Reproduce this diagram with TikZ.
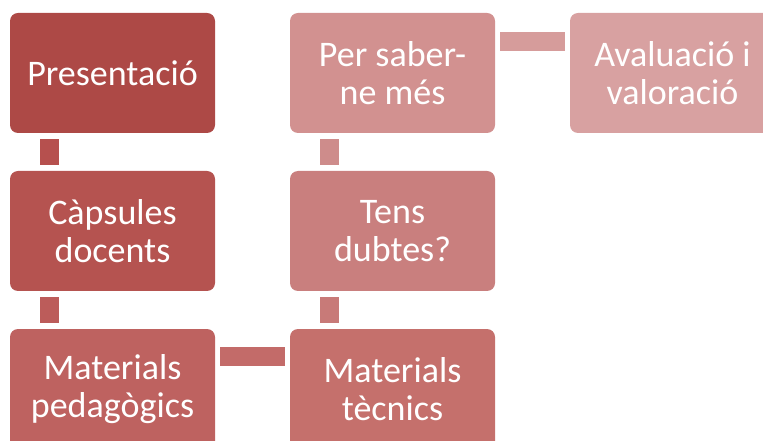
\documentclass[tikz,border=0pt]{standalone}
\usepackage{fontspec}
\setmainfont{Carlito}
\definecolor{c1}{HTML}{AD4946}
\definecolor{c2}{HTML}{B55350}
\definecolor{c3}{HTML}{BE6260}
\definecolor{c4}{HTML}{C5706C}
\definecolor{c5}{HTML}{C97F7E}
\definecolor{c6}{HTML}{D29190}
\definecolor{c7}{HTML}{D8A1A1}
\definecolor{k1}{HTML}{B6504E}
\definecolor{k2}{HTML}{BC5C5A}
\definecolor{k3}{HTML}{C36B69}
\definecolor{k4}{HTML}{C87A78}
\definecolor{k5}{HTML}{CE8C8B}
\definecolor{k6}{HTML}{D69C9B}
\tikzset{
  stepbox/.style={rounded corners=6pt, minimum width=153.75pt, minimum height=90pt,
    text=white, align=center, inner sep=0pt,
    font=\fontsize{27pt}{28.5pt}\selectfont},
  conn/.style={line width=14.25pt, line cap=butt}
}
\begin{document}
\begin{tikzpicture}[x=0.75pt,y=-0.75pt]
\useasboundingbox (0,0) rectangle (763,441);
\clip (0,0) rectangle (763,441);
\node[stepbox, fill=c1] (a) at (112.5,73) {Presentació};
\node[stepbox, fill=c2] (b) at (112.5,231) {Càpsules\\docents};
\node[stepbox, fill=c3] (c) at (112.5,389) {Materials\\pedagògics};
\node[stepbox, fill=c4] (d) at (392.5,389) {Materials\\tècnics};
\node[stepbox, fill=c5] (e) at (392.5,231) {Tens\\dubtes?};
\node[stepbox, fill=c6] (f) at (392.5,73) {Per saber-\\ne més};
\node[stepbox, fill=c7] (g) at (672.5,73) {Avaluació i\\valoració};
\draw[conn, k1] ([shift={(39.5,6)}]a.south west) -- ([shift={(39.5,-6)}]b.north west);
\draw[conn, k2] ([shift={(39.5,6)}]b.south west) -- ([shift={(39.5,-6)}]c.north west);
\draw[conn, k3] ([shift={(5,27.5)}]c.north east) -- ([shift={(-5,27.5)}]d.north west);
\draw[conn, k4] ([shift={(39.5,-6)}]d.north west) -- ([shift={(39.5,6)}]e.south west);
\draw[conn, k5] ([shift={(39.5,-6)}]e.north west) -- ([shift={(39.5,6)}]f.south west);
\draw[conn, k6] ([shift={(5,28.5)}]f.north east) -- ([shift={(-5,28.5)}]g.north west);
\end{tikzpicture}
\end{document}
